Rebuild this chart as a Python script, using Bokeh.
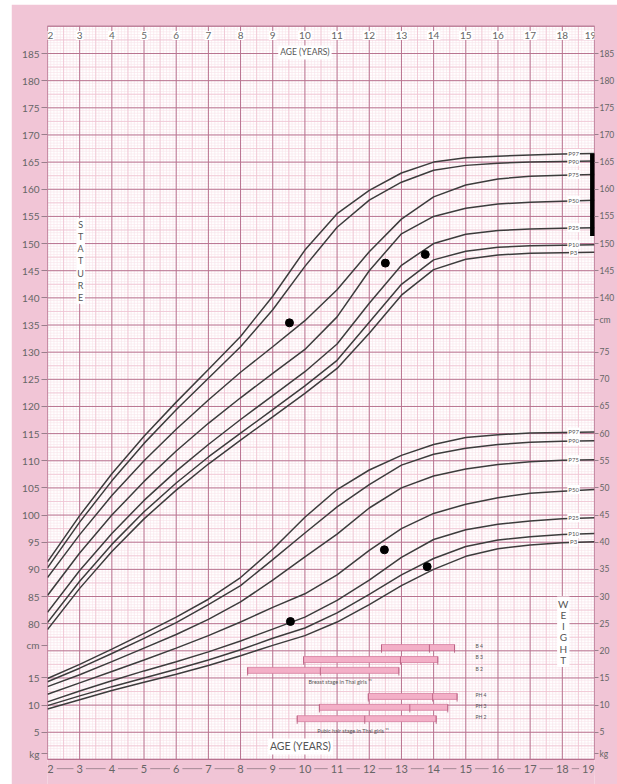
import numpy as np
from bokeh.plotting import figure
from bokeh.layouts import row, column
from bokeh.models import Range1d, LinearAxis, FixedTicker, Spacer
from bokeh.core.properties import value
from bokeh.embed import file_html
from bokeh.resources import INLINE

# ---------------- data ----------------
ages = list(range(2, 20))
percentiles = ["P97", "P90", "P75", "P50", "P25", "P10", "P3"]

stature_p97 = [91.4, 99.9, 107.6, 114.5, 120.8, 126.8, 132.9, 140.3, 148.8, 155.5, 159.8, 163.0, 165.0, 165.8, 166.1, 166.3, 166.5, 166.6]
stature_p90 = [90.3, 98.7, 106.3, 113.2, 119.4, 125.2, 131.0, 137.8, 145.8, 153.0, 158.0, 161.3, 163.5, 164.4, 164.8, 165.0, 165.1, 165.2]
stature_p75 = [88.5, 96.4, 103.6, 110.0, 115.8, 121.2, 126.3, 131.0, 135.8, 141.5, 148.5, 154.5, 158.6, 160.8, 161.9, 162.4, 162.6, 162.7]
stature_p50 = [85.2, 93.0, 100.0, 106.2, 111.8, 116.9, 121.6, 126.1, 130.5, 136.5, 145.0, 151.8, 155.0, 156.5, 157.3, 157.6, 157.8, 158.0]
stature_p25 = [82.1, 89.8, 96.6, 102.7, 108.1, 113.0, 117.6, 122.0, 126.4, 131.5, 139.0, 146.0, 150.0, 151.7, 152.4, 152.7, 152.8, 152.9]
stature_p10 = [80.2, 87.8, 94.6, 100.6, 105.9, 110.7, 115.1, 119.4, 123.8, 128.5, 135.5, 142.5, 147.0, 148.6, 149.3, 149.6, 149.7, 149.8]
stature_p3 = [78.9, 86.5, 93.3, 99.3, 104.6, 109.4, 113.8, 118.1, 122.4, 127.0, 133.5, 140.5, 145.2, 147.1, 147.9, 148.2, 148.3, 148.4]

weight_p97 = [14.9, 17.5, 20.3, 23.2, 26.2, 29.5, 33.5, 38.7, 44.6, 49.7, 53.3, 56.0, 58.0, 59.3, 59.8, 60.1, 60.2, 60.3]
weight_p90 = [14.3, 16.8, 19.5, 22.3, 25.2, 28.5, 32.0, 36.8, 41.7, 46.5, 50.6, 54.2, 56.2, 57.3, 58.0, 58.4, 58.6, 58.7]
weight_p75 = [13.4, 15.6, 18.0, 20.5, 23.0, 25.8, 29.0, 33.0, 37.3, 41.5, 46.3, 50.0, 52.2, 53.5, 54.3, 54.8, 55.1, 55.2]
weight_p50 = [12.0, 14.1, 16.2, 18.3, 20.5, 22.8, 25.3, 28.0, 30.5, 34.0, 38.5, 42.5, 45.3, 47.0, 48.2, 49.0, 49.4, 49.7]
weight_p25 = [10.6, 12.6, 14.5, 16.3, 18.0, 19.8, 21.8, 24.0, 26.2, 29.3, 33.0, 37.2, 40.5, 42.3, 43.3, 43.9, 44.3, 44.5]
weight_p10 = [9.9, 11.7, 13.4, 15.0, 16.6, 18.3, 20.2, 22.3, 24.2, 27.0, 30.4, 34.0, 37.0, 39.2, 40.4, 41.0, 41.4, 41.6]
weight_p3 = [9.3, 11.0, 12.7, 14.2, 15.7, 17.3, 19.1, 21.0, 22.8, 25.3, 28.5, 32.0, 35.0, 37.4, 38.8, 39.5, 39.9, 40.1]

child_stature_age = [9.52, 12.5, 13.74]
child_stature = [135.4, 146.4, 148.0]
child_weight_age = [9.55, 12.47, 13.8]
child_weight = [25.4, 38.6, 35.5]

target_height_range = [151.4, 166.6]

breast_stage = ["B 4", "B 3", "B 2"]
breast_start = [12.38, 9.96, 8.22]
breast_median = [13.87, 12.97, 10.48]
breast_end = [14.65, 14.13, 12.92]
pubic_stage = ["PH 4", "PH 3", "PH 2"]
pubic_start = [11.97, 10.45, 9.76]
pubic_median = [13.97, 13.26, 11.86]
pubic_end = [14.73, 14.44, 14.08]

age_ticks = list(range(2, 20))
stature_ticks_left = list(range(80, 186, 5))
stature_ticks_right = list(range(140, 186, 5))
weight_ticks_left = [5, 10, 15]
weight_ticks_right = list(range(5, 76, 5))

# ---------------- layout constants ----------------
WZERO = 55.0           # 0 kg sits on the 55 cm line of the shared grid
GRID_TOP = 190.16
FONT = "Lato"
PINK = "#f1c5d6"
FINE = "#f9e2ea"
MEDIUM = "#efc1d1"
MAJOR = "#b8728f"
CURVE = "#3c3c3c"
TXT = "#555555"

stature = [stature_p97, stature_p90, stature_p75, stature_p50, stature_p25, stature_p10, stature_p3]
weight = [weight_p97, weight_p90, weight_p75, weight_p50, weight_p25, weight_p10, weight_p3]

p = figure(width=606, height=780, x_range=Range1d(2, 19), y_range=Range1d(50.38, GRID_TOP),
           output_backend="svg", toolbar_location=None,
           x_axis_location=None, y_axis_location=None,
           min_border_left=36, min_border_right=23, min_border_top=21, min_border_bottom=0,
           background_fill_color=PINK, border_fill_color=PINK, outline_line_color=None)
p.grid.visible = False

# white chart paper
p.quad(left=[2], right=[19], bottom=[WZERO], top=[GRID_TOP], fill_color="white", line_color=None)

def vlines(xs, color, width):
    xs = np.asarray(xs, dtype=float)
    p.segment(x0=xs, y0=np.full(len(xs), WZERO), x1=xs, y1=np.full(len(xs), GRID_TOP),
              line_color=color, line_width=width)

def hlines(ys, color, width):
    ys = np.asarray(ys, dtype=float)
    p.segment(x0=np.full(len(ys), 2.0), y0=ys, x1=np.full(len(ys), 19.0), y1=ys,
              line_color=color, line_width=width)

vlines(np.arange(2, 19.001, 0.1), FINE, 0.6)
hlines(np.arange(WZERO, GRID_TOP, 0.5), FINE, 0.6)
vlines(np.arange(2.5, 19, 1.0), MEDIUM, 0.8)
hlines(np.arange(WZERO + 2.5, GRID_TOP, 5.0), MEDIUM, 0.8)
vlines(age_ticks, MAJOR, 1.0)
hlines(np.arange(WZERO, GRID_TOP, 5.0), MAJOR, 1.0)
p.quad(left=[2], right=[19], bottom=[WZERO], top=[GRID_TOP], fill_color=None,
       line_color=MAJOR, line_width=1.2)

# percentile curves
for vals in stature:
    p.line(ages, vals, line_color=CURVE, line_width=1.5)
for vals in weight:
    p.line(ages, [w + WZERO for w in vals], line_color=CURVE, line_width=1.5)

label_style = dict(text_font=value(FONT), text_font_size="6px", text_color=TXT,
                   text_align="center", text_baseline="middle",
                   background_fill_color="white", padding=1)
p.text(x=[18.35] * 7, y=[s[-1] for s in stature], text=percentiles, **label_style)
p.text(x=[18.35] * 7, y=[w[-1] + WZERO for w in weight], text=percentiles, **label_style)

# mid-parental target range bar
p.segment(x0=[18.94], y0=[target_height_range[0]], x1=[18.94], y1=[target_height_range[1]],
          line_color="black", line_width=5)

# child's measurements
p.scatter(child_stature_age, child_stature, size=8, color="black")
p.scatter(child_weight_age, [w + WZERO for w in child_weight], size=8, color="black")

# pubertal stage bars
BAR_FILL = "#f3afc7"
BAR_LINE = "#d67f9f"
def stage_bars(start, median, end, rows):
    rows = np.asarray(rows)
    p.quad(left=start, right=end, bottom=rows - 0.55, top=rows + 0.55,
           fill_color=BAR_FILL, line_color=BAR_LINE, line_width=0.8)
    for xs in (start, median, end):
        p.segment(x0=xs, y0=rows - 0.95, x1=xs, y1=rows + 0.55, line_color="#b85c7f", line_width=0.9)

breast_rows = [75.6, 73.4, 71.4]
pubic_rows = [66.6, 64.6, 62.5]
stage_bars(breast_start, breast_median, breast_end, breast_rows)
stage_bars(pubic_start, pubic_median, pubic_end, pubic_rows)
small = dict(text_font=value(FONT), text_font_size="5px", text_color=TXT,
             text_align="left", text_baseline="middle")
p.text(x=[15.3] * 3, y=[75.8, 73.8, 71.7], text=breast_stage, **small)
p.text(x=[15.3] * 3, y=[66.8, 64.8, 62.9], text=pubic_stage, **small)
p.text(x=[11.1], y=[69.2], text=["Breast stage in Thai girls ¹¹"],
       **dict(small, text_align="center", text_font_size="5.5px"))
p.text(x=[11.5], y=[60.3], text=["Pubic hair stage in Thai girls ¹¹"],
       **dict(small, text_align="center", text_font_size="5.5px"))

# axis titles inside the paper
p.text(x=[3.03], y=[146.8], text=["S\nT\nA\nT\nU\nR\nE"], text_font=value(FONT),
       text_font_size="9px", text_color=TXT, text_align="center", text_baseline="middle",
       text_line_height=1.1, background_fill_color="white", padding=1)
p.text(x=[18.03], y=[78.5], text=["W\nE\nI\nG\nH\nT"], text_font=value(FONT),
       text_font_size="10px", text_color=TXT, text_align="center", text_baseline="middle",
       text_line_height=0.94, background_fill_color="white", padding=1)
p.text(x=[10.0], y=[185.2], text=["AGE (YEARS)"], text_font=value(FONT), text_font_size="8.5px",
       text_color=TXT, text_align="center", text_baseline="middle",
       background_fill_color="white", padding=2)
p.text(x=[9.86], y=[57.4], text=["AGE (YEARS)"], text_font=value(FONT), text_font_size="10.5px",
       text_color=TXT, text_align="center", text_baseline="middle",
       background_fill_color="white", padding=2)

# age numbers along the top (inside) and along the bottom strip
p.text(x=age_ticks, y=[188.3] * len(age_ticks), text=[str(a) for a in age_ticks],
       x_offset=[3] + [0] * (len(age_ticks) - 2) + [-4],
       text_font=value(FONT), text_font_size="10px", text_color="#666666",
       text_align="center", text_baseline="middle", background_fill_color="white", padding=1)
p.line([2, 19], [53.3, 53.3], line_color="#a58a97", line_width=1)
p.text(x=age_ticks, y=[53.3] * len(age_ticks), text=[str(a) for a in age_ticks],
       x_offset=[3] + [0] * (len(age_ticks) - 2) + [-6],
       text_font=value(FONT), text_font_size="11px", text_color="#666666",
       text_align="center", text_baseline="middle", background_fill_color=PINK, padding=3)

# left axis: stature + weight scales
left_ticks = stature_ticks_left + [w + WZERO for w in weight_ticks_left] + [76, 56]
left_over = {s: str(s) for s in stature_ticks_left}
left_over.update({int(w + WZERO): str(w) for w in weight_ticks_left})
left_over.update({76: "cm", 56: "kg"})
left_axis = LinearAxis(ticker=FixedTicker(ticks=left_ticks), major_label_overrides=left_over,
                       axis_line_color=None, major_tick_out=6, major_tick_in=0,
                       major_tick_line_color="#9a7f8c", minor_tick_line_color=None,
                       major_label_standoff=2, major_label_text_font=FONT,
                       major_label_text_font_size="10px", major_label_text_color="#666666")
p.add_layout(left_axis, "left")

right_ticks = stature_ticks_right + [w + WZERO for w in weight_ticks_right] + [136, 56]
right_over = {s: str(s) for s in stature_ticks_right}
right_over.update({int(w + WZERO): str(w) for w in weight_ticks_right})
right_over.update({136: "cm", 56: "kg"})
right_axis = LinearAxis(ticker=FixedTicker(ticks=right_ticks), major_label_overrides=right_over,
                        axis_line_color=None, major_tick_out=4, major_tick_in=0,
                        major_tick_line_color="#9a7f8c", minor_tick_line_color=None,
                        major_label_standoff=1, major_label_text_font=FONT,
                        major_label_text_font_size="8.5px", major_label_text_color="#666666")
p.add_layout(right_axis, "right")

layout = row(Spacer(width=11, height=784), column(Spacer(width=606, height=4), p))
open("out.html", "w").write(file_html(layout, INLINE))
